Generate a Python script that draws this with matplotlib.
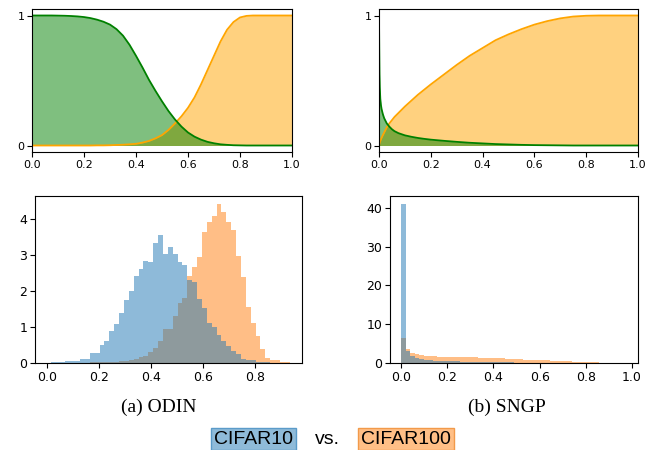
import numpy as np
import matplotlib
matplotlib.use("Agg")
import matplotlib.pyplot as plt

# ---------------- data ----------------
# Top-left (ODIN) curves
odin_x = [0.0, 0.025, 0.05, 0.075, 0.1, 0.125, 0.15, 0.175, 0.2, 0.225, 0.25,
          0.275, 0.3, 0.325, 0.35, 0.375, 0.4, 0.425, 0.45, 0.475, 0.5, 0.525,
          0.55, 0.575, 0.6, 0.625, 0.65, 0.675, 0.7, 0.725, 0.75, 0.775, 0.8,
          0.825, 0.85, 0.9, 0.95, 1.0]
odin_green = [1.0, 1.0, 1.0, 1.0, 0.999, 0.998, 0.996, 0.993, 0.988, 0.98, 0.968,
              0.952, 0.93, 0.895, 0.845, 0.775, 0.69, 0.6, 0.505, 0.42, 0.34, 0.265,
              0.2, 0.145, 0.1, 0.068, 0.045, 0.028, 0.017, 0.009, 0.005, 0.002, 0.001,
              0.0, 0.0, 0.0, 0.0, 0.0]
odin_orange = [0.0, 0.0, 0.0, 0.0, 0.0, 0.0, 0.0, 0.0, 0.0, 0.0, 0.001,
               0.001, 0.002, 0.004, 0.006, 0.009, 0.013, 0.022, 0.035, 0.055, 0.08, 0.12,
               0.17, 0.225, 0.29, 0.37, 0.47, 0.58, 0.69, 0.8, 0.89, 0.95, 0.985,
               0.997, 1.0, 1.0, 1.0, 1.0]

# Top-right (SNGP) curves
sngp_x = [0.0, 0.001, 0.002, 0.003, 0.005, 0.0075, 0.01, 0.015, 0.02, 0.025, 0.03,
          0.04, 0.05, 0.06, 0.075, 0.1, 0.125, 0.15, 0.175, 0.2, 0.25, 0.3, 0.35,
          0.4, 0.45, 0.5, 0.55, 0.6, 0.65, 0.7, 0.75, 0.8, 0.85, 0.9, 0.95, 1.0]
sngp_green = [1.0, 0.75, 0.55, 0.45, 0.36, 0.31, 0.28, 0.24, 0.21, 0.19, 0.17,
              0.145, 0.125, 0.11, 0.095, 0.078, 0.067, 0.058, 0.051, 0.045, 0.036, 0.028,
              0.021, 0.016, 0.011, 0.008, 0.005, 0.003, 0.002, 0.001, 0.0, 0.0, 0.0,
              0.0, 0.0, 0.0]
sngp_orange = [0.0, 0.008, 0.015, 0.022, 0.035, 0.048, 0.06, 0.08, 0.1, 0.12, 0.14,
               0.17, 0.195, 0.22, 0.25, 0.3, 0.345, 0.39, 0.43, 0.47, 0.545, 0.62,
               0.69, 0.75, 0.81, 0.855, 0.895, 0.93, 0.957, 0.978, 0.992, 0.998, 1.0,
               1.0, 1.0, 1.0]

# Bottom-left (ODIN) histograms: density per bin
odin_bin_start = 0.0136
odin_bin_width = 0.0188
odin_cifar10 = [0.02, 0.03, 0.04, 0.05, 0.06, 0.06, 0.1, 0.12, 0.28, 0.28,
                0.5, 0.6, 0.88, 1.07, 1.4, 1.74, 1.99, 2.4, 2.6, 2.83,
                2.81, 3.32, 3.55, 3.03, 3.22, 3.02, 2.79, 2.71, 2.31, 2.25,
                1.77, 1.52, 1.12, 1.0, 0.77, 0.61, 0.47, 0.33, 0.24, 0.12,
                0.09, 0.07, 0.04, 0.03, 0.02, 0.01, 0.0, 0.0, 0.0, 0.0]
odin_cifar100 = [0.0, 0.0, 0.0, 0.0, 0.0, 0.005, 0.01, 0.01, 0.015, 0.015,
                 0.02, 0.02, 0.03, 0.04, 0.05, 0.05, 0.08, 0.12, 0.18, 0.2,
                 0.3, 0.42, 0.6, 0.93, 0.93, 1.29, 1.66, 1.81, 2.42, 2.67,
                 2.94, 3.62, 3.92, 4.08, 4.41, 4.2, 3.92, 3.69, 2.97, 2.39,
                 1.54, 1.12, 0.75, 0.38, 0.15, 0.07, 0.07, 0.03, 0.03, 0.01]

# Bottom-right (SNGP) histograms
sngp_bin_start = 0.0
sngp_bin_width = 0.0195
sngp_cifar10 = [41.0, 3.2, 1.8, 1.3, 1.0, 0.8, 0.7, 0.6, 0.55, 0.5,
                0.45, 0.42, 0.4, 0.38, 0.35, 0.32, 0.3, 0.28, 0.26, 0.24,
                0.22, 0.2, 0.18, 0.16, 0.14, 0.12, 0.1, 0.09, 0.08, 0.07,
                0.06, 0.05, 0.04, 0.035, 0.03, 0.025, 0.02, 0.015, 0.01, 0.01,
                0.005, 0.005, 0.005, 0.005, 0.005, 0.005, 0.005, 0.005, 0.005, 0.005]
sngp_cifar100 = [6.4, 3.5, 2.6, 2.3, 2.1, 1.9, 1.8, 1.7, 1.65, 1.6,
                 1.55, 1.6, 1.65, 1.6, 1.5, 1.5, 1.45, 1.4, 1.35, 1.3,
                 1.35, 1.3, 1.2, 1.15, 1.1, 1.0, 0.95, 0.9, 0.85, 0.8,
                 0.8, 0.75, 0.7, 0.6, 0.55, 0.5, 0.45, 0.4, 0.35, 0.3,
                 0.25, 0.2, 0.18, 0.15, 0.12, 0.1, 0.08, 0.06, 0.04, 0.02]

captions = ["(a) ODIN", "(b) SNGP"]
legend_labels = ["CIFAR10", "vs.", "CIFAR100"]

# ---------------- figure ----------------
W, H = 655, 450
fig = plt.figure(figsize=(W / 100, H / 100), dpi=100)


def rect(l, t, r, b):
    return [l / W, 1 - b / H, (r - l) / W, (b - t) / H]


ax_tl = fig.add_axes(rect(32, 9, 292, 152))
ax_tr = fig.add_axes(rect(379, 9, 638, 152))
ax_bl = fig.add_axes(rect(35, 196, 302, 363))
ax_br = fig.add_axes(rect(390, 196, 638, 363))


def curves(ax, x, g, o):
    ax.fill_between(x, o, color="orange", alpha=0.5, linewidth=0)
    ax.fill_between(x, g, color="green", alpha=0.5, linewidth=0)
    ax.plot(x, o, color="orange", lw=1.3)
    ax.plot(x, g, color="green", lw=1.3)
    ax.set_xlim(0, 1)
    ax.set_ylim(-0.05, 1.05)
    ax.set_yticks([0, 1])
    ax.set_xticks([0, 0.2, 0.4, 0.6, 0.8, 1.0])
    ax.tick_params(labelsize=8, length=3.5, pad=2)


curves(ax_tl, odin_x, odin_green, odin_orange)
curves(ax_tr, sngp_x, sngp_green, sngp_orange)


def hists(ax, start, width, h10, h100):
    n = len(h10)
    edges = start + width * np.arange(n + 1)
    centers = 0.5 * (edges[:-1] + edges[1:])
    ax.hist(centers, bins=edges, weights=h100, color="tab:orange", alpha=0.5)
    ax.hist(centers, bins=edges, weights=h10, color="tab:blue", alpha=0.5)
    ax.tick_params(labelsize=9, length=3.5, pad=2)


hists(ax_bl, odin_bin_start, odin_bin_width, odin_cifar10, odin_cifar100)
ax_bl.set_xlim(-0.047, 0.982)
ax_bl.set_xticks([0.0, 0.2, 0.4, 0.6, 0.8])
ax_bl.set_yticks([0, 1, 2, 3, 4])

hists(ax_br, sngp_bin_start, sngp_bin_width, sngp_cifar10, sngp_cifar100)
ax_br.set_xlim(-0.048, 1.026)
ax_br.set_xticks([0.0, 0.2, 0.4, 0.6, 0.8, 1.0])
ax_br.set_yticks([0, 10, 20, 30, 40])

serif = ["Liberation Serif", "DejaVu Serif"]
fig.text(159 / W, 1 - 407 / H, captions[0], ha="center", va="center",
         family=serif, fontsize=14)
fig.text(507 / W, 1 - 407 / H, captions[1], ha="center", va="center",
         family=serif, fontsize=14)

sans = ["Liberation Sans", "DejaVu Sans"]
y_leg = 1 - 439 / H
fig.text(253.5 / W, y_leg, legend_labels[0], ha="center", va="center",
         family=sans, fontsize=14,
         bbox=dict(boxstyle="square,pad=0.15", fc="#8fbbd9", ec="#5b9bc9", lw=1))
fig.text(327 / W, y_leg, legend_labels[1], ha="center", va="center",
         family=sans, fontsize=14)
fig.text(406 / W, y_leg, legend_labels[2], ha="center", va="center",
         family=sans, fontsize=14,
         bbox=dict(boxstyle="square,pad=0.15", fc="#ffbf86", ec="#f29a4a", lw=1))

fig.savefig("out.png", dpi=100)
